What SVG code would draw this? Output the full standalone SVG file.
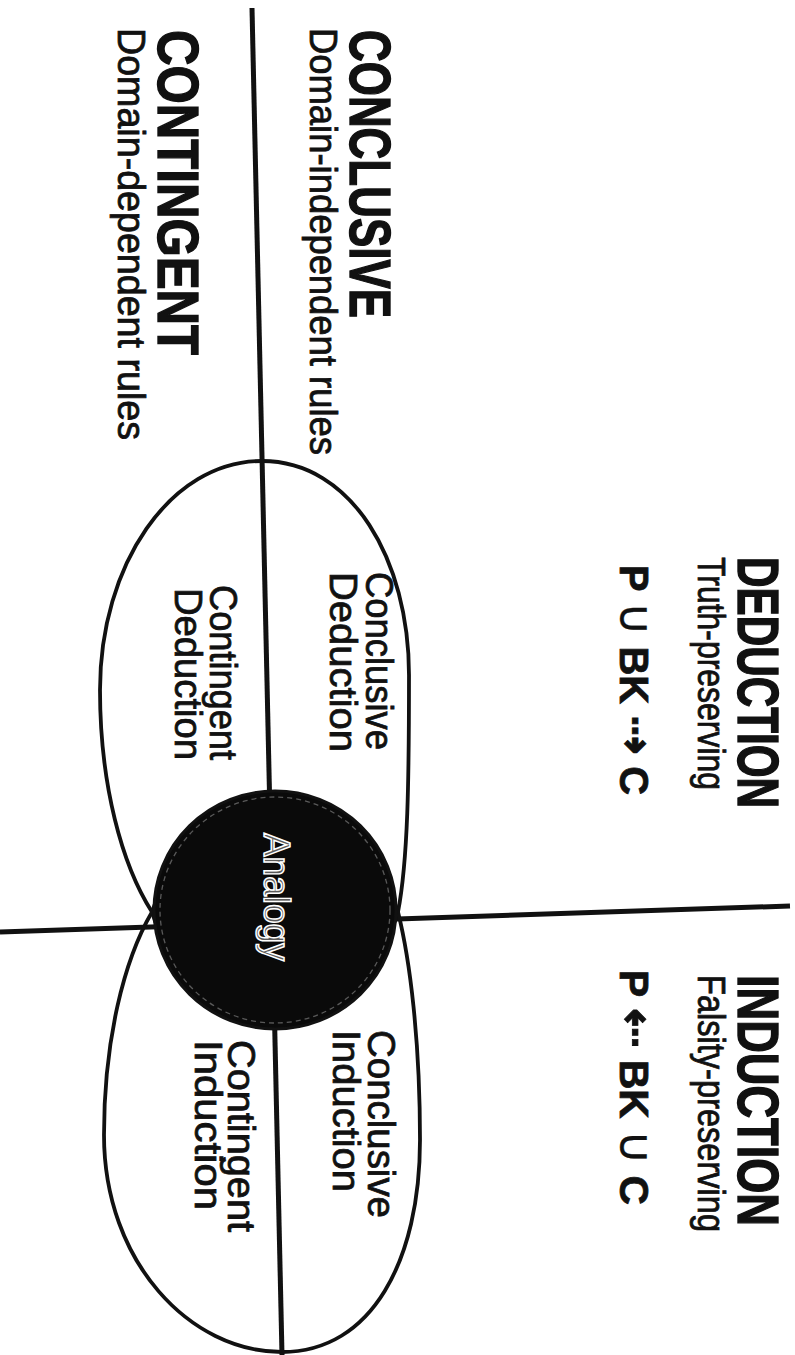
<svg xmlns="http://www.w3.org/2000/svg" width="795" height="1355" viewBox="0 0 795 1355">
  <style>
    .head { font-family: "Liberation Sans", Arial, sans-serif; font-weight: bold; font-size: 57px; fill: #111; stroke: #111; stroke-width: 1.4; }
    .sub { font-family: "Liberation Sans", Arial, sans-serif; font-size: 38px; fill: #111; stroke: #111; stroke-width: 0.8; }
    .cell { font-family: "Liberation Sans", Arial, sans-serif; font-size: 39px; fill: #111; stroke: #111; stroke-width: 0.8; }
    .formula { font-family: "Liberation Sans", "DejaVu Sans", sans-serif; font-weight: bold; font-size: 40px; fill: #111; stroke: #111; stroke-width: 0.8; }
    .thin { font-weight: normal; font-size: 46px; stroke-width: 0.3; }
    .arrow { font-family: "DejaVu Sans", sans-serif; font-size: 48px; }
    .lobe { fill: none; stroke: #111; stroke-width: 3.8; }
    .axis { stroke: #111; stroke-width: 5; stroke-linecap: butt; }
    .analogy { font-family: "Liberation Sans", Arial, sans-serif; font-size: 37px; fill: #5a5a5a; stroke: #ffffff; stroke-width: 1.5; }
  </style>
  <rect width="795" height="1355" fill="#ffffff"/>

  <!-- axes: conclusive/contingent divider and deduction/induction divider -->
  <g id="connectors">
    <line class="axis" x1="252" y1="8" x2="282" y2="1355"/>
    <line class="axis" x1="0" y1="932" x2="790" y2="906"/>
  </g>

  <!-- deduction lobe -->
  <g id="deduction-lobe">
    <path class="lobe" d="M 152 912 C 122 865, 100 785, 100 690 C 100 565, 170 461, 262 461 C 352 461, 409 560, 409 675 C 409 780, 408 860, 398 912 C 385 960, 330 985, 276 985 C 220 985, 165 960, 152 912 Z"/>
  </g>

  <!-- induction lobe -->
  <g id="induction-lobe">
    <path class="lobe" d="M 152 912 C 124 960, 104 1040, 104 1135 C 104 1262, 190 1352, 282 1352 C 372 1352, 420 1260, 420 1140 C 420 1040, 410 960, 398 912 C 385 870, 330 840, 276 840 C 220 840, 165 870, 152 912 Z"/>
  </g>

  <!-- analogy disc at the centre -->
  <g id="analogy">
    <ellipse cx="275" cy="910" rx="121" ry="119" fill="#0a0a0a" stroke="#111" stroke-width="3"/>
    <ellipse cx="275" cy="910" rx="115" ry="113" fill="none" stroke="#9a9a9a" stroke-width="1.3" stroke-dasharray="5 4" opacity="0.55"/>
    <g transform="rotate(90)">
      <text class="analogy" x="833" y="-264" textLength="128" lengthAdjust="spacingAndGlyphs">Analogy</text>
    </g>
  </g>

  <!-- all labels are set on their side, reading top to bottom -->
  <g transform="rotate(90)">
    <g id="deduction">
      <text class="head" x="557" y="-738" textLength="251" lengthAdjust="spacingAndGlyphs">DEDUCTION</text>
      <text class="sub" x="557" y="-698" textLength="233" lengthAdjust="spacingAndGlyphs">Truth-preserving</text>
      <text class="formula" x="565" y="-620" textLength="230" lengthAdjust="spacingAndGlyphs">P <tspan class="thin">∪</tspan> BK <tspan class="arrow">⇢</tspan> C</text>
    </g>
    <g id="induction">
      <text class="head" x="975" y="-738" textLength="251" lengthAdjust="spacingAndGlyphs">INDUCTION</text>
      <text class="sub" x="975" y="-698" textLength="257" lengthAdjust="spacingAndGlyphs">Falsity-preserving</text>
      <text class="formula" x="970" y="-620" textLength="235" lengthAdjust="spacingAndGlyphs">P <tspan class="arrow">⇠</tspan> BK <tspan class="thin">∪</tspan> C</text>
    </g>
    <g id="conclusive">
      <text class="head" x="30" y="-350" textLength="288" lengthAdjust="spacingAndGlyphs">CONCLUSIVE</text>
      <text class="sub" x="28" y="-310" textLength="427" lengthAdjust="spacingAndGlyphs">Domain-independent rules</text>
    </g>
    <g id="contingent">
      <text class="head" x="30" y="-158" textLength="325" lengthAdjust="spacingAndGlyphs">CONTINGENT</text>
      <text class="sub" x="28" y="-118" textLength="412" lengthAdjust="spacingAndGlyphs">Domain-dependent rules</text>
    </g>
    <g id="conclusive-deduction">
      <text class="cell" x="572" y="-366" textLength="178" lengthAdjust="spacingAndGlyphs">Conclusive</text>
      <text class="cell" x="572" y="-330" textLength="180" lengthAdjust="spacingAndGlyphs">Deduction</text>
    </g>
    <g id="contingent-deduction">
      <text class="cell" x="585" y="-210" textLength="175" lengthAdjust="spacingAndGlyphs">Contingent</text>
      <text class="cell" x="588" y="-175" textLength="172" lengthAdjust="spacingAndGlyphs">Deduction</text>
    </g>
    <g id="conclusive-induction">
      <text class="cell" x="1030" y="-368" textLength="188" lengthAdjust="spacingAndGlyphs">Conclusive</text>
      <text class="cell" x="1030" y="-333" textLength="162" lengthAdjust="spacingAndGlyphs">Induction</text>
    </g>
    <g id="contingent-induction">
      <text class="cell" x="1040" y="-228" textLength="192" lengthAdjust="spacingAndGlyphs">Contingent</text>
      <text class="cell" x="1040" y="-195" textLength="170" lengthAdjust="spacingAndGlyphs">Induction</text>
    </g>
  </g>
</svg>
